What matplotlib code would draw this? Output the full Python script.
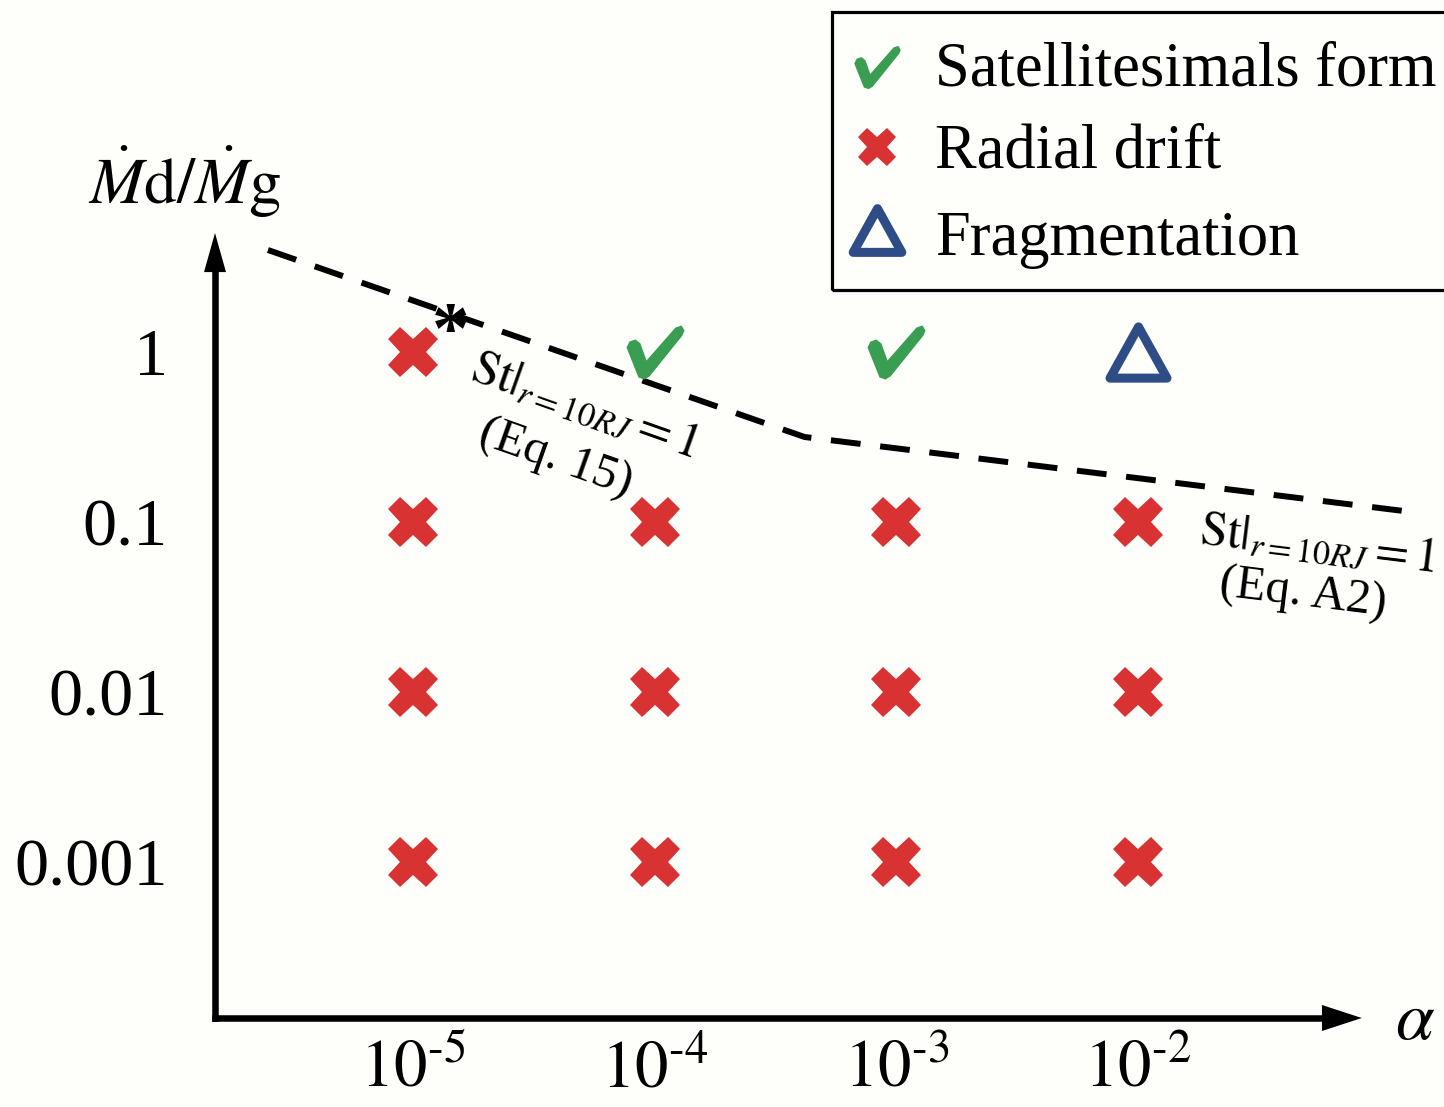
import numpy as np
import matplotlib
matplotlib.use("Agg")
import matplotlib.pyplot as plt
from matplotlib.path import Path
from matplotlib.lines import Line2D
from matplotlib.patches import Rectangle
from matplotlib.markers import MarkerStyle

plt.rcParams['font.family'] = ['Liberation Serif', 'DejaVu Serif']
plt.rcParams['mathtext.fontset'] = 'stix'

# ---------------- data ----------------
log_alpha = [-5, -4, -3, -2]
alpha_labels = [r'$10^{\text{-}5}$', r'$10^{\text{-}4}$', r'$10^{\text{-}3}$', r'$10^{\text{-}2}$']
log_ratio = [0, -1, -2, -3]
ratio_labels = ['1', '0.1', '0.01', '0.001']
# rows follow log_ratio, columns follow log_alpha
outcome = [
    ['drift', 'form', 'form', 'frag'],
    ['drift', 'drift', 'drift', 'drift'],
    ['drift', 'drift', 'drift', 'drift'],
    ['drift', 'drift', 'drift', 'drift'],
]
boundary_log_alpha = [-5.60, -3.38, -0.875]
boundary_log_ratio = [0.60, -0.50, -0.94]

# ---------------- style ----------------
W, H = 1444, 1107
BG = '#fefefa'
RED = '#d93232'
GREEN = '#3a9e52'
BLUE = '#2e4d87'

def fx(px):
    return px / W

def fy(py):
    return 1 - py / H

check_path = Path(
    np.array([(-29, 5), (-26, 11), (-20, 13), (-15, 9), (-9, -8), (20, 25), (26, 27),
              (29, 22), (27, 17), (-6, -24), (-11, -27), (-17, -25), (-29, 5)], float),
    [Path.MOVETO] + [Path.LINETO] * 11 + [Path.CLOSEPOLY])
check_marker = MarkerStyle(check_path)
tri_path = Path(np.array([(0, 0.9), (-1, -0.9), (1, -0.9), (0, 0.9)]),
                [Path.MOVETO, Path.LINETO, Path.LINETO, Path.CLOSEPOLY])
tri_marker = MarkerStyle(tri_path, joinstyle='round')

styles = {
    'form': dict(marker=check_marker, ms=41.8, mfc=GREEN, mec=GREEN, mew=0),
    'drift': dict(marker='X', ms=36.5, mfc=RED, mec=RED, mew=0),
    'frag': dict(marker=tri_marker, ms=41, mfc='none', mec=BLUE, mew=6.5),
}

fig = plt.figure(figsize=(W / 100, H / 100), dpi=100, facecolor=BG)
ax = fig.add_axes([215 / W, 1 - 1018 / H, 1 - 215 / W, 1018 / H])
ax.set_facecolor('none')
ax.set_xlim(-5.819, -0.734)
ax.set_ylim(-3.918, 2.0706)

for s in ['top', 'right']:
    ax.spines[s].set_visible(False)
for s in ['left', 'bottom']:
    ax.spines[s].set_linewidth(4.7)
    ax.spines[s].set_capstyle('projecting')
ax.spines['left'].set_bounds(-3.918, 0.47)
ax.spines['bottom'].set_bounds(-5.819, -1.239)

# arrow heads
ax.fill([-5.819 - 0.0455, -5.819 + 0.0455, -5.819], [0.47, 0.47, 0.70], color='k', clip_on=False, lw=0)
ax.fill([-1.239, -1.239, -1.074], [-3.918 - 0.0765, -3.918 + 0.0765, -3.918], color='k', clip_on=False, lw=0)

ax.set_xticks(log_alpha, alpha_labels)
ax.set_yticks(log_ratio, ratio_labels)
ax.tick_params(axis='both', length=0)
ax.tick_params(axis='y', pad=34, labelsize=49)
ax.tick_params(axis='x', pad=15, labelsize=48)

# boundary
ax.plot(boundary_log_alpha, boundary_log_ratio, color='k', lw=4.3,
        linestyle=(0, (5, 3.3)), dash_capstyle='butt', clip_on=False)

# markers
for r, row in zip(log_ratio, outcome):
    for a, kind in zip(log_alpha, row):
        ax.plot([a], [r], linestyle='none', clip_on=False, **styles[kind])

# labels
fig.text(fx(88), fy(204), r'$\dot{M}\mathrm{d}/\dot{M}\mathrm{g}$', fontsize=47, ha='left', va='baseline')
fig.text(fx(1415), fy(1022), r'$\alpha$', fontsize=50, ha='center', va='center')
fig.text(fx(451), fy(335), '*', fontsize=54, fontweight='bold', ha='center', va='center')

fig.text(fx(468), fy(378), r'$\mathrm{St}|_{r=10RJ}=1$', fontsize=35, rotation=-19.5,
         rotation_mode='anchor', ha='left', va='baseline')
fig.text(fx(476), fy(443), '(Eq. 15)', fontsize=35, rotation=-19.5,
         rotation_mode='anchor', ha='left', va='baseline')
fig.text(fx(1198), fy(543), r'$\mathrm{St}|_{r=10RJ}=1$', fontsize=35, rotation=-7,
         rotation_mode='anchor', ha='left', va='baseline')
fig.text(fx(1218), fy(596), '(Eq. A2)', fontsize=35, rotation=-7,
         rotation_mode='anchor', ha='left', va='baseline')

# legend (manual)
fig.add_artist(Rectangle((fx(832), fy(290)), fx(1470) - fx(832), fy(12) - fy(290),
                         transform=fig.transFigure, fill=False, ec='k', lw=2.3))
leg_items = [
    ('form', 'Satellitesimals form', 67, 85, dict(ms=33.5)),
    ('drift', 'Radial drift', 147, 167, dict(ms=27.5)),
    ('frag', 'Fragmentation', 230, 255, dict(ms=35, mew=6.5)),
]
for kind, label, yc, yb, over in leg_items:
    st = dict(styles[kind])
    st.update(over)
    fig.add_artist(Line2D([fx(877)], [fy(yc)], transform=fig.transFigure, linestyle='none', **st))
    fig.text(fx(935), fy(yb), label, fontsize=45, ha='left', va='baseline')

fig.savefig('out.png', dpi=100, facecolor=BG)
